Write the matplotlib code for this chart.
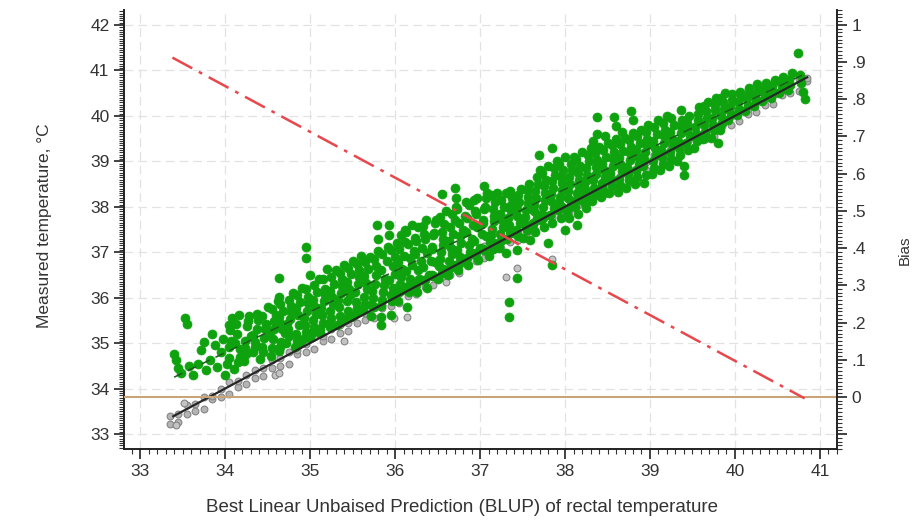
import numpy as np
import matplotlib
matplotlib.use("Agg")
from matplotlib import pyplot as plt
from matplotlib.ticker import MultipleLocator, FuncFormatter

plt.rcParams['font.family'] = ['Liberation Sans', 'DejaVu Sans']

# measured vs BLUP, green cloud
green_pts = [
    (33.40, 34.75), (33.42, 34.62), (33.45, 34.45), (33.48, 34.35),
    (33.53, 35.55), (33.55, 35.42), (33.58, 34.50), (33.62, 34.30),
    (33.68, 34.55), (33.72, 34.85), (33.75, 35.02), (33.78, 34.40),
    (33.82, 34.62), (33.85, 35.20), (33.88, 34.95), (33.90, 34.48),
    (33.95, 34.80), (33.97, 35.10), (34.00, 34.30), (34.02, 34.55), (34.04, 34.92), (34.06, 35.28), (34.08, 35.55),
    (34.10, 34.42), (34.12, 35.00), (34.14, 35.20), (34.16, 35.62), (34.18, 34.70),
    (34.22, 34.60), (34.24, 34.90), (34.26, 35.38), (34.28, 35.60), (34.30, 35.15),
    (34.33, 34.80), (34.35, 35.02), (34.37, 35.30), (34.39, 35.50), (34.41, 34.65),
    (34.44, 34.92), (34.46, 35.12), (34.48, 35.42), (34.50, 35.80), (34.52, 35.25),
    (34.54, 34.72), (34.56, 35.10), (34.58, 35.32), (34.60, 35.62), (34.62, 35.92),
    (34.64, 34.82), (34.66, 35.02), (34.66, 35.42), (34.68, 35.70), (34.64, 36.02), (34.63, 36.44), (34.70, 35.22),
    (34.72, 35.00), (34.74, 35.30), (34.76, 35.52), (34.78, 35.82), (34.80, 36.10),
    (34.82, 34.92), (34.84, 35.20), (34.86, 35.62), (34.88, 35.90), (34.90, 36.22),
    (34.92, 35.10), (34.94, 35.40), (34.95, 37.12), (34.95, 36.88), (34.96, 35.70), (34.98, 36.02), (35.00, 36.50),
    (35.02, 35.22), (35.04, 35.50), (35.06, 35.80), (35.08, 36.12), (35.10, 36.40),
    (35.12, 35.30), (35.14, 35.62), (35.16, 35.92), (35.18, 36.20), (35.20, 36.62),
    (35.22, 35.42), (35.24, 35.70), (35.26, 36.02), (35.28, 36.30), (35.30, 36.60),
    (35.32, 35.40), (35.34, 35.80), (35.36, 36.10), (35.38, 36.42), (35.40, 36.72),
    (35.42, 35.52), (35.44, 35.92), (35.46, 36.20), (35.48, 36.52), (35.50, 36.80),
    (35.52, 35.62), (35.54, 35.90), (35.56, 36.30), (35.58, 36.60), (35.60, 36.92),
    (35.62, 35.72), (35.64, 36.02), (35.66, 36.32), (35.68, 36.62), (35.70, 36.90),
    (35.72, 35.60), (35.74, 36.00), (35.76, 36.30), (35.78, 36.70), (35.79, 37.60), (35.80, 37.02), (35.80, 37.30),
    (35.83, 35.40), (35.83, 35.58), (35.84, 35.82), (35.86, 36.12), (35.88, 36.42), (35.90, 36.80), (35.92, 37.12), (35.93, 37.60),
    (35.95, 35.62), (35.96, 35.92), (35.98, 36.22), (36.00, 36.52), (36.00, 36.90), (36.02, 37.20),
    (36.04, 35.92), (36.06, 36.30), (36.08, 36.62), (36.10, 36.92), (36.12, 37.22), (36.12, 37.50),
    (36.14, 35.80), (36.16, 36.12), (36.18, 36.42), (36.20, 36.72), (36.22, 37.02), (36.24, 37.32), (36.20, 37.60),
    (36.26, 36.12), (36.28, 36.42), (36.30, 36.80), (36.32, 37.10), (36.34, 37.40), (36.36, 37.70),
    (36.38, 36.22), (36.40, 36.50), (36.42, 36.80), (36.44, 37.12), (36.46, 37.42), (36.48, 37.72),
    (36.50, 36.40), (36.52, 36.70), (36.54, 37.00), (36.56, 37.30), (36.58, 37.62), (36.60, 37.90), (36.55, 38.28),
    (36.62, 36.50), (36.64, 36.80), (36.66, 37.10), (36.68, 37.40), (36.70, 37.70), (36.72, 38.00), (36.70, 38.42), (36.72, 38.20),
    (36.74, 36.60), (36.76, 36.90), (36.78, 37.20), (36.80, 37.50), (36.82, 37.80), (36.84, 38.10),
    (36.86, 36.72), (36.88, 37.00), (36.90, 37.30), (36.92, 37.60), (36.94, 37.90), (36.96, 38.20),
    (36.98, 36.82), (37.00, 37.10), (37.02, 37.40), (37.04, 37.70), (37.06, 38.00), (37.08, 38.30), (37.05, 38.45),
    (37.10, 36.92), (37.12, 37.22), (37.14, 37.52), (37.16, 37.80), (37.18, 38.10), (37.20, 38.30),
    (37.22, 37.10), (37.24, 37.40), (37.26, 37.70), (37.28, 38.00), (37.30, 38.30),
    (37.30, 36.98), (37.34, 35.91), (37.34, 35.58), (37.32, 37.30), (37.34, 37.60), (37.36, 37.90), (37.38, 38.20),
    (37.44, 36.44), (37.44, 37.05), (37.42, 37.50), (37.44, 37.80), (37.46, 38.10), (37.48, 38.40),
    (37.50, 37.32), (37.52, 37.62), (37.54, 37.92), (37.56, 38.22), (37.58, 38.50),
    (37.59, 37.27), (37.62, 37.62), (37.64, 37.90), (37.66, 38.20), (37.68, 38.50), (37.70, 38.80),
    (37.69, 39.15), (37.72, 37.70), (37.74, 38.00), (37.76, 38.30), (37.78, 38.60), (37.80, 38.90),
    (37.85, 36.72), (37.80, 37.20), (37.85, 39.30), (37.82, 37.82), (37.84, 38.12), (37.86, 38.42), (37.88, 38.70), (37.90, 39.00),
    (37.92, 37.92), (37.94, 38.22), (37.96, 38.52), (37.98, 38.80), (38.00, 39.10),
    (38.00, 37.50), (38.02, 37.90), (38.04, 38.20), (38.06, 38.50), (38.08, 38.80), (38.10, 39.10),
    (38.14, 37.60), (38.12, 38.00), (38.14, 38.30), (38.16, 38.60), (38.18, 38.90), (38.20, 39.20),
    (38.22, 38.10), (38.24, 38.40), (38.26, 38.70), (38.28, 39.00), (38.30, 39.30),
    (38.32, 38.12), (38.34, 38.42), (38.36, 38.72), (38.38, 39.02), (38.38, 39.98), (38.40, 39.32), (38.38, 39.60),
    (38.42, 38.22), (38.44, 38.52), (38.46, 38.80), (38.48, 39.10), (38.50, 39.40),
    (38.52, 38.30), (38.54, 38.60), (38.56, 38.90), (38.58, 39.20), (38.58, 39.98), (38.60, 39.50), (38.60, 39.78),
    (38.62, 38.32), (38.64, 38.62), (38.66, 38.92), (38.68, 39.22), (38.70, 39.52),
    (38.72, 38.42), (38.74, 38.72), (38.76, 39.02), (38.78, 40.10), (38.78, 39.32), (38.80, 39.62), (38.80, 39.90),
    (38.82, 38.50), (38.84, 38.80), (38.86, 39.10), (38.88, 39.40), (38.90, 39.70),
    (38.93, 38.53), (38.92, 38.90), (38.94, 39.20), (38.96, 39.50), (38.98, 39.80),
    (39.02, 38.72), (39.04, 39.00), (39.06, 39.30), (39.08, 39.60), (39.10, 39.90),
    (39.12, 38.80), (39.14, 39.10), (39.16, 39.40), (39.18, 39.70), (39.20, 40.00),
    (39.22, 38.90), (39.24, 39.20), (39.26, 39.50), (39.28, 39.80),
    (39.32, 39.00), (39.34, 39.30), (39.36, 39.62), (39.38, 39.90), (39.36, 40.12),
    (39.40, 38.70), (39.40, 38.89), (39.42, 39.40), (39.44, 39.70), (39.46, 40.00),
    (39.52, 39.30), (39.54, 39.60), (39.56, 39.92), (39.58, 40.20),
    (39.62, 39.50), (39.64, 39.80), (39.66, 40.10), (39.68, 40.30),
    (39.72, 39.52), (39.74, 39.80), (39.76, 40.12), (39.78, 40.40),
    (39.80, 39.40), (39.82, 39.70), (39.84, 40.00), (39.86, 40.30), (39.88, 40.50),
    (39.92, 39.90), (39.94, 40.20), (39.96, 40.48),
    (40.02, 40.02), (40.04, 40.30), (40.06, 40.52),
    (40.12, 40.10), (40.14, 40.40), (40.16, 40.62),
    (40.22, 40.22), (40.24, 40.45), (40.26, 40.70),
    (40.32, 40.32), (40.34, 40.60),
    (40.42, 40.40), (40.44, 40.65),
    (40.52, 40.50), (40.54, 40.72),
    (40.62, 40.58), (40.64, 40.80),
    (40.74, 41.39), (40.76, 40.90), (40.78, 40.72), (40.80, 40.52), (40.82, 40.38),
]

# extra green points filling the dense part of the cloud
green_fill = [
    (34.05, 34.68), (34.07, 35.05), (34.04, 35.40),
    (34.15, 34.58), (34.17, 34.88), (34.13, 35.42),
    (34.25, 34.75), (34.23, 35.05), (34.27, 35.48),
    (34.35, 34.92), (34.33, 35.18), (34.37, 35.65),
    (34.45, 34.80), (34.47, 35.30), (34.43, 35.60),
    (34.55, 34.90), (34.53, 35.22), (34.57, 35.48), (34.55, 35.75),
    (34.65, 34.92), (34.67, 35.30), (34.63, 35.58), (34.65, 35.85),
    (34.75, 35.15), (34.73, 35.42), (34.77, 35.68), (34.75, 35.95),
    (34.85, 35.05), (34.87, 35.40), (34.83, 35.78), (34.85, 36.05),
    (34.95, 35.25), (34.93, 35.55), (34.97, 35.88), (34.95, 36.20),
    (35.05, 35.35), (35.07, 35.65), (35.03, 35.95), (35.05, 36.28),
    (35.15, 35.45), (35.13, 35.78), (35.17, 36.05), (35.15, 36.40),
    (35.25, 35.55), (35.27, 35.85), (35.23, 36.15), (35.25, 36.45),
    (35.35, 35.60), (35.33, 35.95), (35.37, 36.25), (35.35, 36.55),
    (35.45, 35.70), (35.47, 36.05), (35.43, 36.35), (35.45, 36.65),
    (35.55, 35.78), (35.53, 36.12), (35.57, 36.45), (35.55, 36.75),
    (35.65, 35.85), (35.67, 36.18), (35.63, 36.48), (35.65, 36.78),
    (35.75, 35.80), (35.73, 36.15), (35.77, 36.50), (35.75, 36.85),
    (35.85, 35.95), (35.87, 36.28), (35.83, 36.60), (35.85, 36.95),
    (35.95, 36.05), (35.93, 36.38), (35.97, 36.70), (35.95, 37.05), (35.93, 37.38),
    (36.05, 36.12), (36.07, 36.45), (36.03, 36.78), (36.05, 37.08), (36.07, 37.38),
    (36.15, 36.25), (36.13, 36.58), (36.17, 36.88), (36.15, 37.18), (36.13, 37.45),
    (36.25, 36.28), (36.27, 36.60), (36.23, 36.95), (36.25, 37.25), (36.27, 37.55),
    (36.35, 36.38), (36.33, 36.68), (36.37, 36.98), (36.35, 37.28), (36.33, 37.58),
    (36.45, 36.48), (36.47, 36.78), (36.43, 37.08), (36.45, 37.38), (36.47, 37.65),
    (36.55, 36.55), (36.53, 36.85), (36.57, 37.15), (36.55, 37.45), (36.53, 37.78),
    (36.65, 36.65), (36.67, 36.95), (36.63, 37.25), (36.65, 37.55), (36.67, 37.85),
    (36.75, 36.75), (36.73, 37.05), (36.77, 37.35), (36.75, 37.65), (36.73, 37.95),
    (36.85, 36.88), (36.87, 37.15), (36.83, 37.45), (36.85, 37.75), (36.87, 38.05),
    (36.95, 36.98), (36.93, 37.25), (36.97, 37.55), (36.95, 37.85), (36.93, 38.15),
    (37.05, 37.05), (37.07, 37.35), (37.03, 37.65), (37.05, 37.95), (37.07, 38.20),
    (37.15, 37.08), (37.13, 37.38), (37.17, 37.68), (37.15, 37.95), (37.13, 38.25),
    (37.25, 37.25), (37.27, 37.55), (37.23, 37.85), (37.25, 38.15),
    (37.35, 37.45), (37.33, 37.75), (37.37, 38.05), (37.35, 38.35),
    (37.45, 37.35), (37.47, 37.65), (37.43, 37.95), (37.45, 38.25),
    (37.55, 37.48), (37.53, 37.78), (37.57, 38.08), (37.55, 38.36),
    (37.65, 37.45), (37.67, 37.75), (37.63, 38.05), (37.65, 38.35), (37.67, 38.65),
    (37.75, 37.55), (37.73, 37.85), (37.77, 38.15), (37.75, 38.45), (37.73, 38.75),
    (37.85, 37.65), (37.87, 37.98), (37.83, 38.28), (37.85, 38.56), (37.87, 38.85),
    (37.95, 37.75), (37.93, 38.08), (37.97, 38.38), (37.95, 38.66), (37.93, 38.95),
    (38.05, 37.75), (38.07, 38.05), (38.03, 38.35), (38.05, 38.65), (38.07, 38.95),
    (38.15, 37.85), (38.13, 38.15), (38.17, 38.45), (38.15, 38.75), (38.13, 39.05),
    (38.25, 37.98), (38.27, 38.25), (38.23, 38.55), (38.25, 38.85), (38.27, 39.15),
    (38.35, 38.28), (38.33, 38.58), (38.37, 38.88), (38.35, 39.18), (38.33, 39.45),
    (38.45, 38.38), (38.47, 38.66), (38.43, 38.95), (38.45, 39.25), (38.47, 39.55),
    (38.55, 38.45), (38.53, 38.75), (38.57, 39.05), (38.55, 39.35),
    (38.65, 38.48), (38.67, 38.78), (38.63, 39.08), (38.65, 39.38), (38.67, 39.65),
    (38.75, 38.58), (38.73, 38.88), (38.77, 39.18), (38.75, 39.48),
    (38.85, 38.65), (38.87, 38.95), (38.83, 39.25), (38.85, 39.55),
    (38.95, 38.70), (38.93, 39.05), (38.97, 39.35), (38.95, 39.65),
    (39.05, 38.85), (39.07, 39.15), (39.03, 39.45), (39.05, 39.75),
    (39.15, 38.95), (39.13, 39.25), (39.17, 39.55), (39.15, 39.85),
    (39.25, 39.05), (39.27, 39.35), (39.23, 39.65), (39.25, 39.95),
    (39.35, 39.15), (39.33, 39.45), (39.37, 39.78),
    (39.45, 39.25), (39.47, 39.55), (39.43, 39.85),
    (39.55, 39.45), (39.53, 39.75), (39.57, 40.05),
    (39.65, 39.65), (39.67, 39.95), (39.63, 40.22),
    (39.75, 39.68), (39.73, 39.95), (39.77, 40.25),
    (39.85, 39.85), (39.87, 40.15), (39.83, 40.40),
    (39.95, 40.05), (39.97, 40.35),
    (40.05, 40.15), (40.07, 40.42),
    (40.15, 40.25), (40.17, 40.50),
    (40.25, 40.35), (40.27, 40.58),
    (40.35, 40.45), (40.37, 40.72),
    (40.45, 40.52), (40.47, 40.78),
    (40.55, 40.60), (40.57, 40.85),
    (40.65, 40.68), (40.67, 40.95),
]

# green points lying right on top of the identity line
green_near = [
    (34.88, 35.02), (35.00, 35.12), (35.12, 35.22), (35.24, 35.36), (35.36, 35.46),
    (35.48, 35.58), (35.60, 35.70), (35.72, 35.84), (35.96, 36.06), (36.08, 36.16),
    (36.20, 36.28), (36.32, 36.38), (36.44, 36.50), (36.56, 36.62), (36.68, 36.72),
    (36.80, 36.85), (36.92, 36.96), (37.04, 37.08), (37.16, 37.20), (37.40, 37.42),
    (37.62, 37.65), (37.74, 37.76), (37.96, 38.00), (38.20, 38.22), (38.44, 38.46),
]

# gray points hugging the identity line
gray_x = [33.35, 33.45, 33.55, 33.65, 33.75, 33.85, 33.95, 34.05, 34.15, 34.25,
          34.35, 34.45, 34.55, 34.65, 34.75, 34.85, 34.95, 35.05, 35.15, 35.25,
          35.35, 35.45, 35.55, 35.65, 35.75, 35.85, 35.95, 36.05, 36.15, 36.25,
          36.35, 36.45, 36.55, 36.65, 36.75, 36.85, 36.95, 37.05, 37.15, 37.25,
          37.35, 37.45, 37.55, 37.65, 37.75, 37.85, 37.95, 38.05, 38.15, 38.25,
          38.35, 38.45, 38.55, 38.65, 38.75, 38.85, 38.95, 39.05, 39.15, 39.25,
          39.35, 39.45, 39.55, 39.65, 39.75, 39.85, 39.95, 40.05, 40.15, 40.25,
          40.35, 40.45, 40.55, 40.65, 40.75, 40.85]
gray_top = [33.40, 33.45, 33.63, 33.67, 33.81, 33.84, 33.99, 34.14, 34.16, 34.30,
            34.40, 34.45, 34.63, 34.67, 34.81, 34.84, 34.99, 35.14, 35.16, 35.30,
            35.40, 35.45, 35.63, 35.67, 35.81, 35.84, 35.99, 36.14, 36.16, 36.30,
            36.40, 36.45, 36.63, 36.67, 36.81, 36.84, 36.99, 37.14, 37.16, 37.30,
            37.40, 37.45, 37.63, 37.67, 37.81, 37.84, 37.99, 38.14, 38.16, 38.30,
            38.40, 38.45, 38.63, 38.67, 38.81, 38.84, 38.99, 39.14, 39.16, 39.30,
            39.40, 39.45, 39.63, 39.67, 39.81, 39.84, 39.99, 40.14, 40.16, 40.30,
            40.40, 40.45, 40.63, 40.67, 40.81, 40.84]
gray_bottom = [33.23, 33.27, 33.45, 33.50, 33.55, 33.77, 33.81, 33.88, 34.04, 34.09,
               34.23, 34.27, 34.45, 34.50, 34.55, 34.77, 34.81, 34.88, 35.04, 35.09,
               35.23, 35.27, 35.45, 35.50, 35.55, 35.77, 35.81, 35.88, 36.04, 36.09,
               36.23, 36.27, 36.45, 36.50, 36.55, 36.77, 36.81, 36.88, 37.04, 37.09,
               37.23, 37.27, 37.45, 37.50, 37.55, 37.77, 37.81, 37.88, 38.04, 38.09,
               38.23, 38.27, 38.45, 38.50, 38.55, 38.77, 38.81, 38.88, 39.04, 39.09,
               39.23, 39.27, 39.45, 39.50, 39.55, 39.77, 39.81, 39.88, 40.04, 40.09,
               40.23, 40.27, 40.45, 40.50, 40.55, 40.77]
gray_extra_x = [33.52, 33.42, 34.59, 34.63, 35.99, 36.14, 37.30, 37.44, 37.85, 35.40, 36.60]
gray_extra_y = [33.68, 33.20, 34.30, 34.34, 35.55, 35.58, 36.46, 36.66, 36.85, 35.05, 36.35]

# lines
ident_x = [33.39, 40.85]
ident_y = [33.39, 40.85]
fit_x = [33.40, 40.85]
fit_y = [34.25, 40.95]
bias_x = [33.38, 40.82]
bias_y = [0.912, -0.004]


def bias_label(v, pos):
    if v < -1e-9:
        return ''
    if abs(v) < 1e-9:
        return '0'
    if abs(v - 1) < 1e-9:
        return '1'
    return ('%.1f' % v).lstrip('0')


fig = plt.figure(figsize=(9.17, 5.21), dpi=100)
ax = fig.add_axes([0.1352, 0.1382, 0.7775, 0.8426])

gx, gy = zip(*(green_pts + green_fill + green_near))
ax.scatter(gray_x, gray_bottom, s=24, facecolor='#b4b4b4', edgecolor='#858585', lw=0.8, zorder=2)
ax.scatter(gray_x, gray_top, s=24, facecolor='#b4b4b4', edgecolor='#858585', lw=0.8, zorder=2)
ax.scatter(gray_extra_x, gray_extra_y, s=24, facecolor='#c4c4c4', edgecolor='#858585', lw=0.8, zorder=2)
ax.scatter(gx, gy, s=42, color='#0ea20e', edgecolor='#0ea20e', lw=0.5, zorder=3)
ax.plot(ident_x, ident_y, color='#262626', lw=1.6, zorder=4)
ax.plot(fit_x, fit_y, color='#1d5a1d', lw=1.1, ls=(0, (6, 4)), zorder=4)

ax.set_xlim(32.81, 41.2)
ax.set_ylim(32.67, 42.33)
ax.xaxis.set_major_locator(MultipleLocator(1))
ax.xaxis.set_minor_locator(MultipleLocator(0.1))
ax.yaxis.set_major_locator(MultipleLocator(1))
ax.yaxis.set_minor_locator(MultipleLocator(0.05))
ax.tick_params(which='major', direction='out', length=7, width=1.3, labelsize=12.5, colors='#333333')
ax.tick_params(which='minor', direction='out', length=3.5, width=0.8, colors='#333333')
ax.grid(True, which='major', color='#e2e2e2', ls=(0, (7, 4)), lw=0.9)
ax.set_axisbelow(True)
for s in ['top', 'right']:
    ax.spines[s].set_visible(False)
for s in ['left', 'bottom']:
    ax.spines[s].set_linewidth(1.4)
    ax.spines[s].set_color('#222222')

ax2 = ax.twinx()
ax2.set_ylim(-0.14, 1.04)
ax2.axhline(0, color='#c9a478', lw=1.5, zorder=1)
ax2.plot(bias_x, bias_y, color='#e8474c', lw=1.8, ls=(0, (9, 3, 1.5, 3)), zorder=5)
ax2.yaxis.set_major_locator(MultipleLocator(0.1))
ax2.yaxis.set_minor_locator(MultipleLocator(0.01))
ax2.yaxis.set_major_formatter(FuncFormatter(bias_label))
ax2.tick_params(which='major', direction='out', length=7, width=1.3, labelsize=12.5, colors='#333333')
ax2.tick_params(which='minor', direction='out', length=3.5, width=0.8, colors='#333333')
for s in ['top', 'left', 'bottom']:
    ax2.spines[s].set_visible(False)
ax2.spines['right'].set_linewidth(1.4)
ax2.spines['right'].set_color('#222222')

fig.text(462 / 917, 1 - 508 / 521, 'Best Linear Unbaised Prediction (BLUP) of rectal temperature',
         ha='center', va='center', fontsize=13.5, color='#333333')
fig.text(45 / 917, 1 - 226 / 521, 'Measured temperature, \u00b0C', rotation=90,
         ha='center', va='center', fontsize=12.5, color='#333333')
fig.text(905 / 917, 1 - 250 / 521, 'Bias', rotation=90,
         ha='center', va='center', fontsize=11, color='#333333')

fig.savefig('out.png', dpi=100)
